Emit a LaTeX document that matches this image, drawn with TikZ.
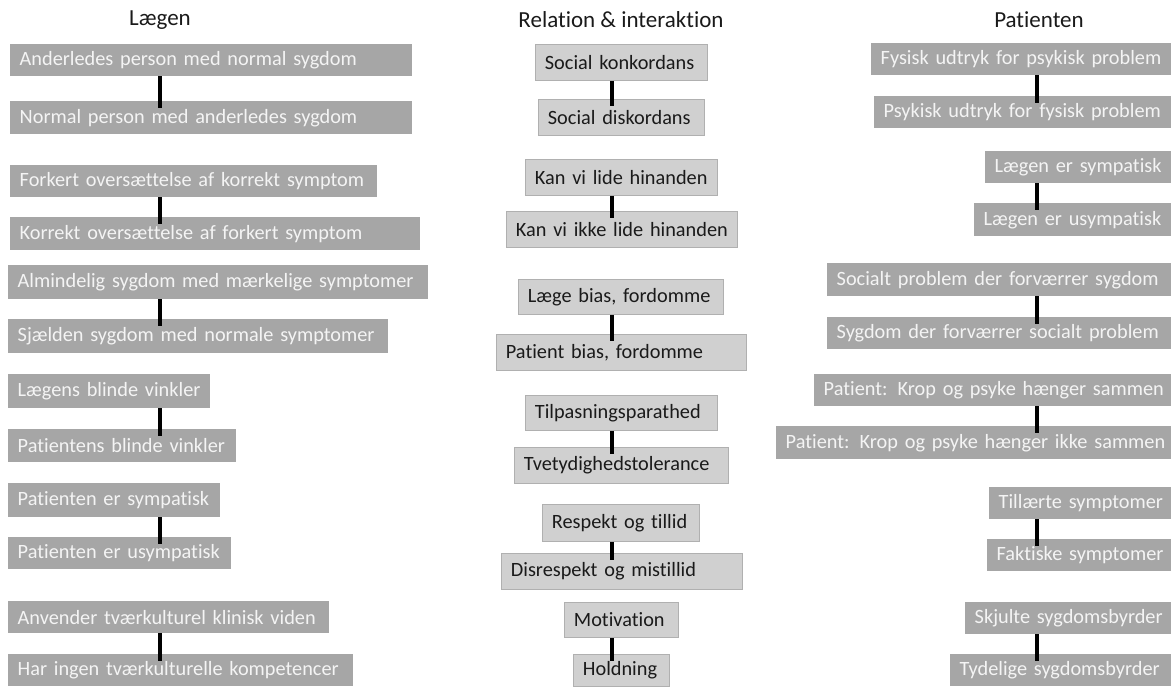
\documentclass[tikz,border=0pt]{standalone}
\usepackage{fontspec}
\setmainfont{Carlito}[Ligatures={NoCommon}]
\definecolor{boxgray}{HTML}{A6A6A6}
\definecolor{boxtext}{HTML}{F4F4F4}
\definecolor{midfill}{HTML}{D0D0D0}
\definecolor{midline}{HTML}{B0B0B0}
\definecolor{ink}{HTML}{1A1A1A}
% one labelled box: style, name, x, y (top left), width, height, text
\newcommand\cell[7]{%
  \pgfmathsetmacro\cellw{#5-19}%
  \node[#1, minimum width=#5pt, minimum height=#6pt, text width=\cellw pt] (#2) at (#3,#4) {\mbox{#7}};}
\begin{document}
\begin{tikzpicture}[x=1pt,y=-1pt,
  cellbase/.style={anchor=north west, inner xsep=9.5pt, inner ysep=0pt, align=left,
    font=\fontsize{20.3}{24}\selectfont},
  dark/.style={cellbase, fill=boxgray, text=boxtext},
  light/.style={cellbase, fill=midfill, draw=midline, line width=0.8pt, text=ink},
  link/.style={line width=4pt, draw=black, shorten >=-7pt},
  heading/.style={font=\fontsize{23}{28}\selectfont, text=ink, inner sep=0pt}]
\useasboundingbox (0,0) rectangle (1171,686);

% column headings
\node[heading] (hL) at (160,20) {Lægen};
\node[heading] (hM) at (621,20) {Relation \& interaktion};
\node[heading] (hR) at (1039,20) {Patienten};

% connector columns
\coordinate (xL) at (160,0);
\coordinate (xM) at (612,0);
\coordinate (xR) at (1037,0);

% the doctor
\cell{dark}{L1}{10}{44}{402}{32}{Anderledes person med normal sygdom}
\cell{dark}{L2}{10}{101}{402}{33}{Normal person med anderledes sygdom}
\cell{dark}{L3}{10}{165}{367}{32}{Forkert oversættelse af korrekt symptom}
\cell{dark}{L4}{10}{217}{410}{33}{Korrekt oversættelse af forkert symptom}
\cell{dark}{L5}{8}{265}{420}{34}{Almindelig sygdom med mærkelige symptomer}
\cell{dark}{L6}{8}{319}{380}{34}{Sjælden sygdom med normale symptomer}
\cell{dark}{L7}{8}{374}{202}{34}{Lægens blinde vinkler}
\cell{dark}{L8}{8}{429}{228}{33}{Patientens blinde vinkler}
\cell{dark}{L9}{8}{483}{212}{34}{Patienten er sympatisk}
\cell{dark}{L10}{8}{537}{223}{32}{Patienten er usympatisk}
\cell{dark}{L11}{8}{601}{321}{32}{Anvender tværkulturel klinisk viden}
\cell{dark}{L12}{8}{654}{345}{32}{Har ingen tværkulturelle kompetencer}

% relation and interaction
\cell{light}{M1}{535}{44}{172}{36}{Social konkordans}
\cell{light}{M2}{538}{99}{166}{36}{Social diskordans}
\cell{light}{M3}{525}{159}{192}{36}{Kan vi lide hinanden}
\cell{light}{M4}{506}{211}{231}{36}{Kan vi ikke lide hinanden}
\cell{light}{M5}{518}{279}{205}{35}{Læge bias, fordomme}
\cell{light}{M6}{496}{334}{250}{36}{Patient bias, fordomme}
\cell{light}{M7}{525}{395}{192}{35}{Tilpasningsparathed}
\cell{light}{M8}{514}{447}{214}{36}{Tvetydighedstolerance}
\cell{light}{M9}{542}{504}{157}{37}{Respekt og tillid}
\cell{light}{M10}{501}{553}{241}{36}{Disrespekt og mistillid}
\cell{light}{M11}{564}{602}{114}{35}{Motivation}
\cell{light}{M12}{573}{654}{96}{32}{Holdning}

% the patient
\cell{dark}{R1}{871}{43}{300}{32}{Fysisk udtryk for psykisk problem}
\cell{dark}{R2}{874}{96}{297}{32}{Psykisk udtryk for fysisk problem}
\cell{dark}{R3}{985}{151}{186}{32}{Lægen er sympatisk}
\cell{dark}{R4}{974}{203}{197}{33}{Lægen er usympatisk}
\cell{dark}{R5}{827}{263}{344}{33}{Socialt problem der forværrer sygdom}
\cell{dark}{R6}{827}{317}{344}{32}{Sygdom der forværrer socialt problem}
\cell{dark}{R7}{814}{374}{357}{32}{Patient: Krop og psyke hænger sammen}
\cell{dark}{R8}{776}{426}{395}{33}{Patient: Krop og psyke hænger ikke sammen}
\cell{dark}{R9}{989}{487}{182}{32}{Tillærte symptomer}
\cell{dark}{R10}{987}{539}{184}{32}{Faktiske symptomer}
\cell{dark}{R11}{965}{602}{206}{32}{Skjulte sygdomsbyrder}
\cell{dark}{R12}{950}{654}{221}{32}{Tydelige sygdomsbyrder}

% opposites joined by a bar
\foreach \c in {L,M,R}{
  \foreach \a/\b in {1/2,3/4,5/6,7/8,9/10,11/12}{
    \draw[link] (\c\a.south -| x\c) -- (\c\b.north -| x\c);
  }
}
\end{tikzpicture}
\end{document}
